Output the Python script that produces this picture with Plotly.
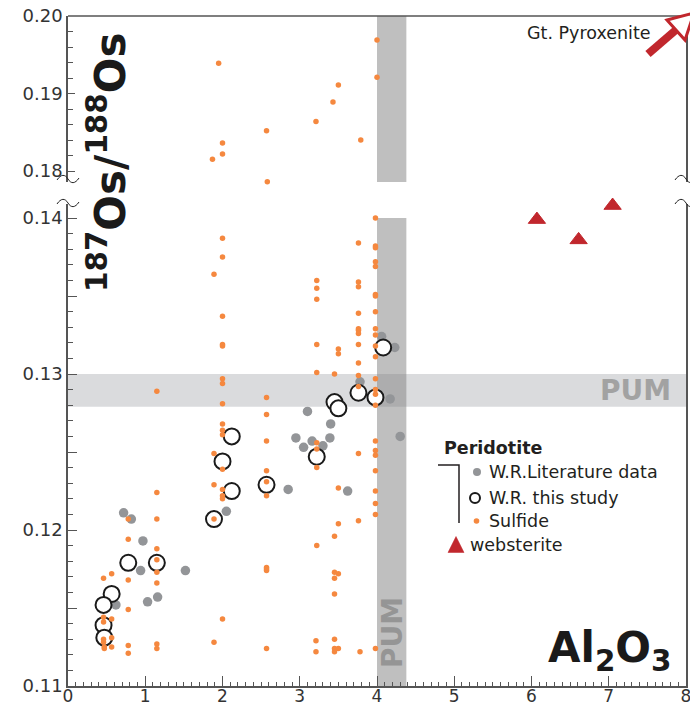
import plotly.graph_objects as go

# ---------------- data ----------------
# W.R. literature data (peridotite)
lit_al = [0.72, 0.82, 2.05, 0.97, 0.94, 1.52, 1.03, 1.16, 0.62,
          4.06, 4.23, 3.78, 4.17, 3.10, 3.40, 2.95, 3.16, 3.05, 3.30, 3.39, 4.30, 2.85, 3.62]
lit_os = [0.1211, 0.1207, 0.1212, 0.1193, 0.1174, 0.1174, 0.1154, 0.1157, 0.1152,
          0.1324, 0.1317, 0.1295, 0.1284, 0.1276, 0.1268, 0.1259, 0.1257, 0.1253, 0.1254, 0.1259, 0.1260, 0.1226, 0.1225]

# W.R. this study
wr_al = [2.12, 2.00, 2.12, 2.57, 1.89, 0.78, 1.15, 0.565, 0.46, 0.46, 0.47,
         4.08, 3.76, 3.98, 3.45, 3.50, 3.22]
wr_os = [0.1260, 0.1244, 0.1225, 0.1229, 0.1207, 0.1179, 0.1179, 0.1159, 0.1152, 0.1139, 0.1131,
         0.1317, 0.1288, 0.1285, 0.1282, 0.1278, 0.1247]

# Sulfide
sul_al = [0.46, 0.46, 0.46, 0.46, 0.46, 0.47, 0.47,
          0.565, 0.565, 0.565, 0.565,
          0.78, 0.78, 0.78, 0.78, 0.78, 0.78,
          1.15, 1.15, 1.15, 1.15, 1.15, 1.15, 1.15, 1.15, 1.15,
          1.89, 1.89, 1.89, 1.89, 1.89,
          2.00, 2.00, 2.00, 2.00, 2.00, 2.00, 2.00, 2.00, 2.00, 2.00, 2.00, 2.00, 2.00, 2.00, 2.00, 2.00,
          2.57, 2.57, 2.57, 2.57, 2.57, 2.57, 2.57, 2.57, 2.57, 2.57,
          3.22, 3.22, 3.22, 3.22, 3.22, 3.22, 3.22, 3.22, 3.22, 3.21, 3.21,
          3.50, 3.50, 3.45, 3.50, 3.50, 3.45, 3.45, 3.50, 3.45, 3.45, 3.45, 3.45, 3.50, 3.45,
          3.76, 3.76, 3.76, 3.76, 3.76, 3.76, 3.76, 3.76, 3.76, 3.76, 3.76, 3.76, 3.76, 3.78,
          3.98, 3.98, 3.98, 3.98, 3.98, 3.98, 3.98, 3.98, 3.98, 3.98, 3.98, 3.98, 3.98, 3.98, 3.98, 3.98,
          3.98, 3.98, 3.98, 3.98, 3.98, 3.98, 3.98, 3.98,
          1.95, 4.00, 4.00, 3.50, 3.43, 3.21, 2.57, 2.00, 2.00, 1.87, 3.79, 2.58]
sul_os = [0.1169, 0.1144, 0.1141, 0.1130, 0.1128, 0.1125, 0.1124,
          0.1172, 0.1143, 0.1131, 0.1125,
          0.1207, 0.1194, 0.1168, 0.1149, 0.1126, 0.1121,
          0.1289, 0.1224, 0.1207, 0.1188, 0.1181, 0.1173, 0.1166, 0.1127, 0.1124,
          0.1364, 0.1249, 0.1229, 0.1207, 0.1128,
          0.1387, 0.1375, 0.1337, 0.1319, 0.1318, 0.1297, 0.1294, 0.1281, 0.1268, 0.1264, 0.1261, 0.1239, 0.1226, 0.1222, 0.1220, 0.1143,
          0.1285, 0.1274, 0.1257, 0.1238, 0.1231, 0.1222, 0.1176, 0.1175, 0.1174, 0.1124,
          0.1360, 0.1355, 0.1348, 0.1319, 0.1301, 0.1256, 0.1252, 0.1240, 0.1190, 0.1129, 0.1122,
          0.1316, 0.1313, 0.1300, 0.1227, 0.1204, 0.1196, 0.1173, 0.1172, 0.1169, 0.1159, 0.1130, 0.1124, 0.1124, 0.1122,
          0.1384, 0.1359, 0.1356, 0.1339, 0.1329, 0.1328, 0.1326, 0.1319, 0.1307, 0.1299, 0.1292, 0.1249, 0.1206, 0.1122,
          0.1400, 0.1382, 0.1381, 0.1372, 0.1369, 0.1351, 0.1350, 0.1340, 0.1329, 0.1325, 0.1318, 0.1311, 0.1297, 0.1290, 0.1287, 0.1280,
          0.1257, 0.1251, 0.1248, 0.1238, 0.1225, 0.1217, 0.1210, 0.1124,
          0.1939, 0.1969, 0.1921, 0.1911, 0.1889, 0.1864, 0.1852, 0.1836, 0.1822, 0.1815, 0.1840, 0.1786]

# Websterite
web_al = [6.07, 6.61, 7.05]
web_os = [0.1399, 0.1386, 0.1408]

# axes
x_range = [0, 8]
x_tickvals = [0, 1, 2, 3, 4, 5, 6, 7, 8]
x_ticktext = ["0", "1", "2", "3", "4", "5", "6", "7", "8"]
low_range = [0.11, 0.1409]
up_range = [0.17858, 0.20]
low_tickvals = [0.11, 0.115, 0.12, 0.125, 0.13, 0.135, 0.14]
low_ticktext = ["0.11", "", "0.12", "", "0.13", "", "0.14"]
up_tickvals = [0.18, 0.19, 0.20]
up_ticktext = ["0.18", "0.19", "0.20"]
pum_al = [4.0, 4.38]
pum_os = [0.1279, 0.130]
break_val = 0.15

# ---------------- styling ----------------
FONT = "DejaVu Sans"
AX = "#555555"
TXT = "#231f20"
GRAY = "#939598"
ORANGE = "#f5883f"
RED = "#c1272d"

L, R, T, B = 68, 4, 16, 23
W, H = 690, 709
PW, PH = W - L - R, H - T - B


def px2x(px):
    return (px - L) / PW


def py2y(py):
    return (H - B - py) / PH


low_dom = [0, py2y(204)]
up_dom = [py2y(182), 1]

fig = go.Figure()


def split(xs, ys):
    lo = [(a, b) for a, b in zip(xs, ys) if b < break_val]
    hi = [(a, b) for a, b in zip(xs, ys) if b >= break_val]
    return lo, hi


def add(xs, ys, marker):
    lo, hi = split(xs, ys)
    if lo:
        fig.add_trace(go.Scatter(x=[p[0] for p in lo], y=[p[1] for p in lo], mode="markers",
                                 marker=marker, yaxis="y", cliponaxis=False, hoverinfo="skip"))
    if hi:
        fig.add_trace(go.Scatter(x=[p[0] for p in hi], y=[p[1] for p in hi], mode="markers",
                                 marker=marker, yaxis="y2", cliponaxis=False, hoverinfo="skip"))


add(lit_al, lit_os, dict(size=9.5, color=GRAY))
add(wr_al, wr_os, dict(size=16, color="white", line=dict(color="#1a1a1a", width=2)))
add(sul_al, sul_os, dict(size=5.5, color=ORANGE))
add(web_al, web_os, dict(size=15, color=RED, symbol="triangle-up", line=dict(color=RED, width=1)))

shapes = []
# PUM bands
shapes.append(dict(type="rect", xref="x", yref="y", x0=pum_al[0], x1=pum_al[1], y0=0.11, y1=0.14,
                   fillcolor="#808080", opacity=0.5, line=dict(width=0), layer="below"))
shapes.append(dict(type="rect", xref="x", yref="y2 domain", x0=pum_al[0], x1=pum_al[1], y0=0, y1=1,
                   fillcolor="#808080", opacity=0.5, line=dict(width=0), layer="below"))
shapes.append(dict(type="rect", xref="x domain", yref="y", x0=0, x1=1, y0=pum_os[0], y1=pum_os[1],
                   fillcolor="#a3a6aa", opacity=0.4, line=dict(width=0), layer="below"))
# top border
shapes.append(dict(type="line", xref="paper", yref="paper", x0=0, x1=1, y0=1, y1=1,
                   line=dict(color=AX, width=1.5)))
# axis break squiggles
for xp in (0, 1):
    for yp in (py2y(179), py2y(203)):
        shapes.append(dict(type="path", xref="paper", yref="paper", xsizemode="pixel", ysizemode="pixel",
                           xanchor=xp, yanchor=yp,
                           path="M-11,-1 C-7,5 -3,5 0,0 C3,-5 7,-5 11,1",
                           line=dict(color="#222222", width=1)))
# arrow to Gt. Pyroxenite
shapes.append(dict(type="line", xref="paper", yref="paper", x0=px2x(648), y0=py2y(54),
                   x1=px2x(677), y1=py2y(29), line=dict(color=RED, width=8)))
head = [(667, 20), (694, 13), (685, 40)]
hp = "M" + " L".join(f"{px2x(a):.5f},{py2y(b):.5f}" for a, b in head) + " Z"
shapes.append(dict(type="path", xref="paper", yref="paper", path=hp,
                   fillcolor="white", line=dict(color=RED, width=3)))

# legend bracket and symbols
shapes.append(dict(type="path", xref="paper", yref="paper",
                   path=f"M{px2x(438)},{py2y(465)} L{px2x(459)},{py2y(465)} L{px2x(459)},{py2y(523)}",
                   line=dict(color=TXT, width=1.5)))


def leg_circle(px, py, r, fill, lc=None, lw=0):
    shapes.append(dict(type="circle", xref="paper", yref="paper", xsizemode="pixel", ysizemode="pixel",
                       xanchor=px2x(px), yanchor=py2y(py), x0=-r, x1=r, y0=-r, y1=r,
                       fillcolor=fill, line=dict(color=lc or fill, width=lw)))


leg_circle(477, 472, 4, GRAY)
leg_circle(475, 498, 5, "white", "#1a1a1a", 2)
leg_circle(476.5, 521, 2.8, ORANGE)
shapes.append(dict(type="path", xref="paper", yref="paper", xsizemode="pixel", ysizemode="pixel",
                   xanchor=px2x(456), yanchor=py2y(545),
                   path="M-8,-7.5 L8,-7.5 L0,8.5 Z", fillcolor=RED, line=dict(color=RED, width=0.5)))

annotations = []


def text(px, py, s, size, color=TXT, xanchor="left", angle=0):
    annotations.append(dict(xref="paper", yref="paper", x=px2x(px), y=py2y(py), text=s,
                            showarrow=False, xanchor=xanchor, yanchor="middle", textangle=angle,
                            font=dict(family=FONT, size=size, color=color)))


text(442, 448, "<b>Peridotite</b>", 17.5)
text(487, 472, "W.R.Literature data", 17.5)
text(487, 498, "W.R. this study", 17.5)
text(487, 521, "Sulfide", 17.5)
text(468, 545, "websterite", 17.5)
text(589, 33, "Gt. Pyroxenite", 17.5, xanchor="center")
text(635, 390, "<b>PUM</b>", 28, color="#a2a2a2", xanchor="center")
text(392, 633, "<b>PUM</b>", 28, color="#959595", xanchor="center", angle=-90)
text(610, 650, "<b>Al<sub>2</sub>O<sub>3</sub></b>", 42, color="#1a1a1a", xanchor="center")
text(107, 163, "<b><sup>187</sup>Os/<sup>188</sup>Os</b>", 42, color="#1a1a1a", xanchor="center", angle=-90)

axis_common = dict(showline=True, linecolor=AX, linewidth=1.5, showgrid=False, zeroline=False,
                   ticks="inside", tickcolor=AX, tickwidth=1, automargin=False,
                   ticklabeloverflow="allow",
                   tickfont=dict(family=FONT, size=18, color="#333333"))

fig.update_layout(
    width=W, height=H, margin=dict(l=L, r=R, t=T, b=B, autoexpand=False),
    paper_bgcolor="white", plot_bgcolor="white", showlegend=False,
    font=dict(family=FONT),
    xaxis=dict(range=x_range, domain=[0, 1], anchor="y", tickmode="array",
               tickvals=x_tickvals, ticktext=x_ticktext, ticklen=10, ticklabelstandoff=-6,
               minor=dict(ticks="inside", dtick=0.1, tick0=0, ticklen=4, tickcolor=AX),
               **{**axis_common, "tickfont": dict(family=FONT, size=17, color="#333333")}),
    yaxis=dict(range=low_range, domain=low_dom, anchor="x", mirror=True,
               tickmode="array", tickvals=low_tickvals, ticktext=low_ticktext, ticklen=9,
               minor=dict(ticks="inside", dtick=0.001, tick0=0.11, ticklen=5, tickcolor=AX), **axis_common),
    yaxis2=dict(range=up_range, domain=up_dom, anchor="x", mirror=True,
                tickmode="array", tickvals=up_tickvals, ticktext=up_ticktext, ticklen=7,
                minor=dict(ticks="inside", dtick=0.002, tick0=0.18, ticklen=5, tickcolor=AX), **axis_common),
    shapes=shapes, annotations=annotations,
)

fig.write_html("out.html")
